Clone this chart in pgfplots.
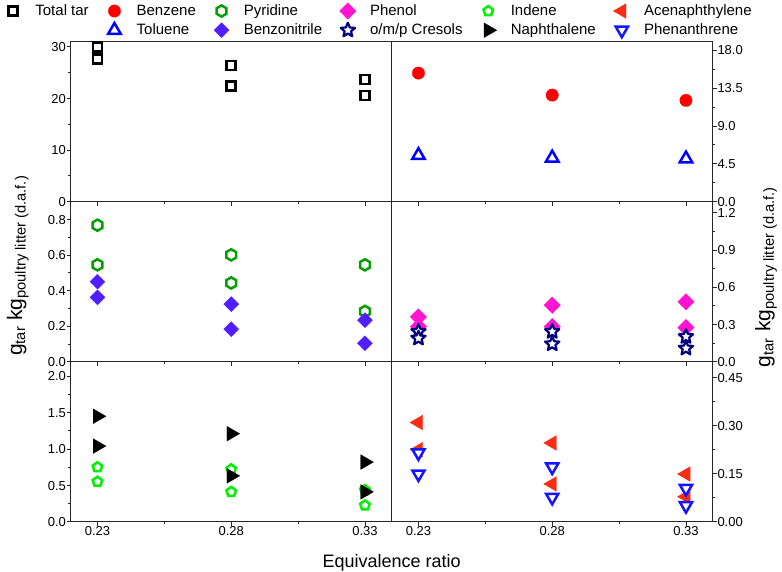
\documentclass[border=0pt]{standalone}
\usepackage{fontspec}
\setmainfont{Liberation Sans}
\usepackage{pgfplots}
\pgfplotsset{compat=1.18}
\usetikzlibrary{plotmarks}

\definecolor{cPyr}{RGB}{0,160,0}
\definecolor{cBnz}{RGB}{80,30,255}
\definecolor{cPhe}{RGB}{255,20,210}
\definecolor{cCre}{RGB}{0,0,128}
\definecolor{cInd}{RGB}{0,240,0}
\definecolor{cAce}{RGB}{250,45,20}
\definecolor{cPhn}{RGB}{20,20,255}

\pgfdeclareplotmark{hexagon}{%
  \pgfpathmoveto{\pgfpointpolar{90}{\pgfplotmarksize}}%
  \pgfpathlineto{\pgfpointpolar{150}{\pgfplotmarksize}}%
  \pgfpathlineto{\pgfpointpolar{210}{\pgfplotmarksize}}%
  \pgfpathlineto{\pgfpointpolar{270}{\pgfplotmarksize}}%
  \pgfpathlineto{\pgfpointpolar{330}{\pgfplotmarksize}}%
  \pgfpathlineto{\pgfpointpolar{30}{\pgfplotmarksize}}%
  \pgfpathclose\pgfusepathqfillstroke}
\pgfdeclareplotmark{fivestar}{%
  \pgfpathmoveto{\pgfpointpolar{90}{\pgfplotmarksize}}%
  \pgfpathlineto{\pgfpointpolar{126}{0.45\pgfplotmarksize}}%
  \pgfpathlineto{\pgfpointpolar{162}{\pgfplotmarksize}}%
  \pgfpathlineto{\pgfpointpolar{198}{0.45\pgfplotmarksize}}%
  \pgfpathlineto{\pgfpointpolar{234}{\pgfplotmarksize}}%
  \pgfpathlineto{\pgfpointpolar{270}{0.45\pgfplotmarksize}}%
  \pgfpathlineto{\pgfpointpolar{306}{\pgfplotmarksize}}%
  \pgfpathlineto{\pgfpointpolar{342}{0.45\pgfplotmarksize}}%
  \pgfpathlineto{\pgfpointpolar{18}{\pgfplotmarksize}}%
  \pgfpathlineto{\pgfpointpolar{54}{0.45\pgfplotmarksize}}%
  \pgfpathclose\pgfusepathqfillstroke}

\pgfplotsset{
  legend image code/.code={\path (0bp,-5bp) (16bp,5bp);
    \draw[mark repeat=2, mark phase=2, #1] plot coordinates {(0bp,0bp) (8bp,0bp) (16bp,0bp)};},
}
\pgfplotsset{
  panel/.style={
    scale only axis, width=321bp, height=160bp,
    anchor=south west,
    xmin=0.22, xmax=0.34,
    xtick={0.23,0.28,0.33}, minor xtick={0.255,0.305},
    xtick pos=left, tick align=outside,
    major tick length=4bp, minor tick length=2.5bp,
    tick style={black!85, line width=0.8bp},
    axis line style={black!85, line width=0.9bp},
    /pgf/number format/assume math mode=true,
    ticklabel style={font=\fontsize{13bp}{15bp}\selectfont, inner sep=0.6bp,
      text height=9.4bp, text depth=0bp},
    xticklabel style={/pgf/number format/.cd, fixed, fixed zerofill, precision=2},
    scaled ticks=false,
    clip=false,
  },
  leftp/.style={ytick pos=left},
  rightp/.style={ytick pos=right, yticklabel pos=right},
  nolab/.style={xticklabels={}},
  dec/.style={yticklabel style={/pgf/number format/.cd, fixed, fixed zerofill, precision=#1}},
  ylab/.style={ylabel={g\textsubscript{tar} kg\textsubscript{poultry litter (d.a.f.)}},
    ylabel style={at={(axis description cs:#1)}, anchor=center,
    font=\fontsize{21bp}{24bp}\selectfont}},
  tt/.style={only marks, mark=square*, mark size=4.5bp, mark options={draw=black, fill=white, line width=2.6bp}},
  bz/.style={only marks, mark=*, mark size=6.2bp, mark options={draw=red, fill=red, line width=0.3bp}},
  tol/.style={only marks, mark=triangle*, mark size=7.2bp, mark options={draw=blue, fill=white, line width=2.5bp}},
  pyr/.style={only marks, mark=hexagon, mark size=5.6bp, mark options={draw=cPyr, fill=white, line width=2.5bp}},
  bnz/.style={only marks, mark=square*, mark size=5.3bp, mark options={rotate=45, draw=cBnz, fill=cBnz, line width=0.3bp}},
  phe/.style={only marks, mark=square*, mark size=5.8bp, mark options={rotate=45, draw=cPhe, fill=cPhe, line width=0.3bp}},
  cre/.style={only marks, mark=fivestar, mark size=7.5bp, mark options={draw=cCre, fill=white, line width=2.2bp, line join=round}},
  ind/.style={only marks, mark=pentagon*, mark size=5bp, mark options={draw=cInd, fill=white, line width=2.5bp}},
  nap/.style={only marks, mark=triangle*, mark size=8.5bp, mark options={rotate=-90, draw=black, fill=black, line width=0.3bp}},
  ace/.style={only marks, mark=triangle*, mark size=8.5bp, mark options={rotate=90, draw=cAce, fill=cAce, line width=0.3bp}},
  phn/.style={only marks, mark=triangle*, mark size=7bp, mark options={rotate=180, draw=cPhn, fill=white, line width=2.5bp}},
}

\begin{document}
\begin{tikzpicture}
\useasboundingbox (0,0) rectangle (782bp,572bp);

% ---------- top left: total tar ----------
\begin{axis}[panel, leftp, nolab, at={(70.7bp,370.3bp)},
  ymin=0, ymax=31, ytick={0,10,20,30}, minor ytick={5,15,25},
  legend columns=6,
  legend style={draw=none, fill=none, inner sep=0pt, outer sep=0pt,
    at={(axis description cs:-0.2047,1.243)}, anchor=north west,
    font=\fontsize{15bp}{18bp}\selectfont, row sep=3bp,
    nodes={inner sep=1bp, text height=11bp, text depth=3bp},
    /tikz/every odd column/.append style={column sep=13bp},
    /tikz/every even column/.append style={column sep=16.5bp}},
  legend cell align=left]
\addplot[tt, forget plot] coordinates {(0.23,30.0) (0.23,27.7) (0.28,26.4) (0.28,22.4) (0.33,23.7) (0.33,20.6)};
\addlegendimage{tt}\addlegendentry{Total tar}
\addlegendimage{bz}\addlegendentry{Benzene}
\addlegendimage{pyr}\addlegendentry{Pyridine}
\addlegendimage{phe}\addlegendentry{Phenol}
\addlegendimage{ind}\addlegendentry{Indene}
\addlegendimage{ace}\addlegendentry{Acenaphthylene}
\addlegendimage{empty legend}\addlegendentry{}
\addlegendimage{tol}\addlegendentry{Toluene}
\addlegendimage{bnz}\addlegendentry{Benzonitrile}
\addlegendimage{cre}\addlegendentry{o/m/p Cresols}
\addlegendimage{nap}\addlegendentry{Naphthalene}
\addlegendimage{phn}\addlegendentry{Phenanthrene}
\end{axis}

% ---------- top right: benzene, toluene ----------
\begin{axis}[panel, rightp, nolab, dec=1, at={(391.7bp,370.3bp)},
  ymin=0, ymax=19, ytick={0,4.5,9,13.5,18}, minor ytick={2.25,6.75,11.25,15.75}]
\addplot[bz] coordinates {(0.23,15.27) (0.28,12.66) (0.33,12.03)};
\addplot[tol] coordinates {(0.23,5.5) (0.28,5.2) (0.33,5.1)};
\end{axis}

% ---------- middle left: pyridine, benzonitrile ----------
\begin{axis}[panel, leftp, nolab, dec=1, at={(70.7bp,210.3bp)},
  ymin=0, ymax=0.9, ytick={0,0.2,0.4,0.6,0.8}, minor ytick={0.1,0.3,0.5,0.7},
  ylab={-0.165,0.6}]
\addplot[pyr] coordinates {(0.23,0.768) (0.23,0.545) (0.28,0.601) (0.28,0.443) (0.33,0.545) (0.33,0.283)};
\addplot[bnz] coordinates {(0.23,0.450) (0.23,0.362) (0.28,0.324) (0.28,0.183) (0.33,0.234) (0.33,0.104)};
\end{axis}

% ---------- middle right: phenol, cresols ----------
\begin{axis}[panel, rightp, nolab, dec=1, at={(391.7bp,210.3bp)},
  ymin=0, ymax=1.29, ytick={0,0.3,0.6,0.9,1.2}, minor ytick={0.15,0.45,0.75,1.05},
  ylab={1.166,0.53}]
\addplot[phe] coordinates {(0.23,0.361) (0.23,0.283) (0.28,0.456) (0.28,0.283) (0.33,0.483) (0.33,0.275)};
\addplot[cre] coordinates {(0.23,0.243) (0.23,0.189) (0.28,0.243) (0.28,0.143) (0.33,0.202) (0.33,0.108)};
\end{axis}

% ---------- bottom left: indene, naphthalene ----------
\begin{axis}[panel, leftp, dec=1, at={(70.7bp,50.3bp)},
  ymin=0, ymax=2.2, ytick={0,0.5,1,1.5,2}, minor ytick={0.25,0.75,1.25,1.75},
  xlabel={Equivalence ratio},
  xlabel style={at={(axis description cs:1,-0.255)}, anchor=center,
    font=\fontsize{18bp}{21bp}\selectfont}]
\addplot[ind] coordinates {(0.23,0.75) (0.23,0.55) (0.28,0.72) (0.28,0.41) (0.33,0.435) (0.33,0.225)};
\addplot[nap] coordinates {(0.23,1.45) (0.23,1.04) (0.28,1.21) (0.28,0.63) (0.33,0.82) (0.33,0.41)};
\end{axis}

% ---------- bottom right: acenaphthylene, phenanthrene ----------
\begin{axis}[panel, rightp, dec=2, at={(391.7bp,50.3bp)},
  ymin=0, ymax=0.5, ytick={0,0.15,0.3,0.45}, minor ytick={0.075,0.225,0.375}]
\addplot[ace] coordinates {(0.23,0.31) (0.23,0.225) (0.28,0.246) (0.28,0.118) (0.33,0.149) (0.33,0.078)};
\addplot[phn] coordinates {(0.23,0.215) (0.23,0.149) (0.28,0.171) (0.28,0.076) (0.33,0.104) (0.33,0.05)};
\end{axis}
\end{tikzpicture}
\end{document}
